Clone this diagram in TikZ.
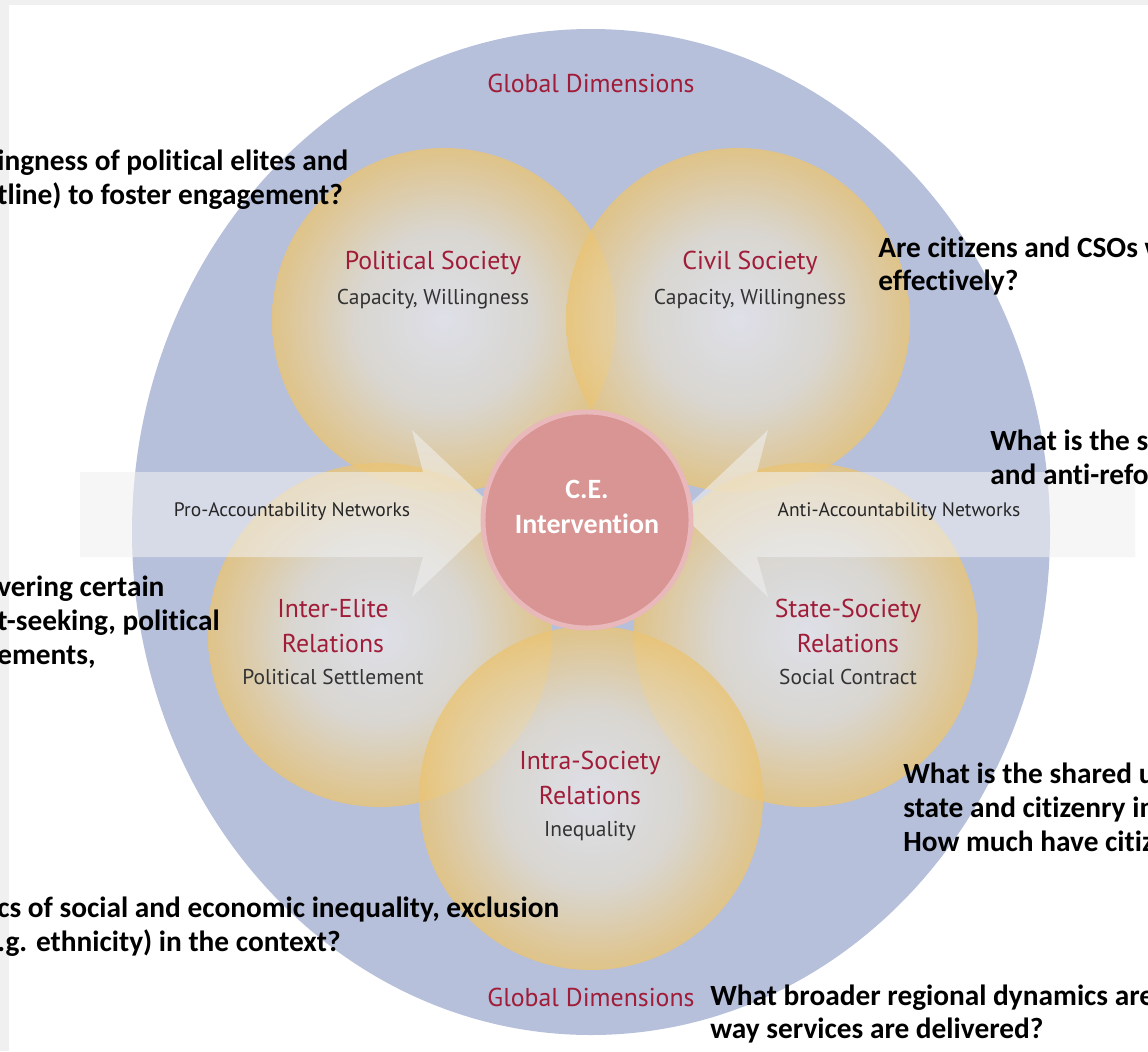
\documentclass[tikz,border=0pt]{standalone}
\usepackage{fontspec}
\setmainfont{PT Sans}
\newfontfamily\qfont[Ligatures=NoCommon]{Carlito}

\definecolor{globe}{RGB}{182,192,219}
\definecolor{petalin}{RGB}{232,232,236}
\definecolor{petalmid}{RGB}{226,220,206}
\definecolor{petalout}{RGB}{234,196,116}
\definecolor{cefill}{RGB}{217,148,148}
\definecolor{cerim}{RGB}{232,184,186}
\definecolor{darkred}{RGB}{160,28,56}
\definecolor{netfill}{RGB}{240,240,240}
\definecolor{frame}{RGB}{240,240,240}

% the path fills the inner 25bp of the shading
\pgfdeclareradialshading{petal}{\pgfpoint{0bp}{0bp}}{color(0bp)=(petalin); color(13bp)=(petalmid); color(25bp)=(petalout); color(50bp)=(petalout)}

\begin{document}
\begin{tikzpicture}[x=0.02cm,y=-0.02cm,
  every node/.style={inner sep=0pt},
  flower/.style={shading=petal,opacity=0.8},
  network/.style={fill=netfill,fill opacity=0.58},
  title/.style={text=darkred,align=center,font=\fontsize{14.7}{19.8}\selectfont},
  sub/.style={text=black!80,font=\fontsize{12.2}{14}\selectfont},
  netlabel/.style={text=black!85,font=\fontsize{11.1}{13}\selectfont},
  question/.style={anchor=west,align=left,font=\qfont\bfseries\fontsize{16.7}{19.3}\selectfont}]
\useasboundingbox (0,0) rectangle (1148,1051);
\fill[white] (0,0) rectangle (1148,1051);
\fill[frame] (0,0) rectangle (1148,5);
\fill[frame] (0,0) rectangle (9,1051);

% global ring
\fill[globe] (591,532) ellipse [x radius=459, y radius=503];

% the five spheres
\foreach \c in {(444,320),(738,320),(380,635),(806,635),(591,798)}
  \shade[flower] \c circle [radius=172];

% networks pushing on the intervention
\fill[network] (80,472) -- (423,472) -- (412,430) -- (500,513) -- (412,597) -- (423,557) -- (80,557) -- cycle;
\fill[network] (1135,472) -- (757,472) -- (768,430) -- (680,513) -- (768,597) -- (757,557) -- (1135,557) -- cycle;

\draw[cerim,line width=2.8pt,fill=cefill] (587,520) ellipse [x radius=104, y radius=108];
\node[text=white,align=center,font=\qfont\bfseries\fontsize{15.9}{19.8}\selectfont] (ce) at (587,507) {C.E.\\Intervention};

\node[title] (gtop)  at (591,83)  {Global Dimensions};
\node[title] (gbot)  at (591,997) {Global Dimensions};

\node[title] (ps)    at (433,263) {Political Society};
\node[sub]   (pssub) at (433,299) {Capacity, Willingness};
\node[title] (cs)    at (750,263) {Civil Society};
\node[sub]   (cssub) at (750,299) {Capacity, Willingness};
\node[title] (ie)    at (333,626) {Inter-Elite\\Relations};
\node[sub]   (iesub) at (333,677) {Political Settlement};
\node[title] (ss)    at (848,626) {State-Society\\Relations};
\node[sub]   (sssub) at (848,677) {Social Contract};
\node[title] (is)    at (590,778) {Intra-Society\\Relations};
\node[sub]   (issub) at (590,831) {Inequality};

\node[netlabel] (pro)  at (292,512) {Pro-Accountability Networks};
\node[netlabel] (anti) at (899,512) {Anti-Accountability Networks};

\node[question] (q1) at (-3,180)  {ingness of political elites and\\tline) to foster engagement?};
\node[question] (q2) at (878,266) {Are citizens and CSOs w\\effectively?};
\node[question] (q3) at (990,457) {What is the st\\and anti-refo};
\node[question] (q4) at (-3,622)  {vering certain\\t-seeking, political\\ements,};
\node[question] (q5) at (903,807) {What is the shared u\\state and citizenry in\\How much have citiz};
\node[question] (q6) at (-3,927)  {cs of social and economic inequality, exclusion\\.g. ethnicity) in the context?};
\node[question] (q7) at (710,1014) {What broader regional dynamics are\\way services are delivered?};
\end{tikzpicture}
\end{document}
